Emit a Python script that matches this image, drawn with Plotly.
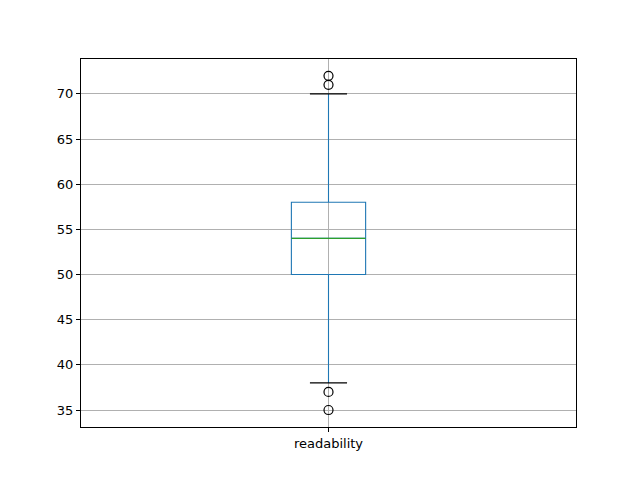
import plotly.graph_objects as go

column = "readability"
q1 = 50
median = 54
q3 = 58
lower_whisker = 38
upper_whisker = 70
outliers = [72, 71, 37, 35]

blue = "#1f77b4"
green = "#2ca02c"

fig = go.Figure()
# main box (no fill, blue outline + whiskers)
fig.add_trace(go.Box(
    x=[column], q1=[q1], median=[median], q3=[q3],
    lowerfence=[lower_whisker], upperfence=[upper_whisker],
    width=0.15, whiskerwidth=0, fillcolor="rgba(0,0,0,0)",
    line=dict(color=blue, width=1.1), hoverinfo="skip", showlegend=False,
))
# green median line
fig.add_trace(go.Box(
    x=[column], q1=[median], median=[median], q3=[median],
    lowerfence=[median], upperfence=[median],
    width=0.15, whiskerwidth=0, fillcolor="rgba(0,0,0,0)",
    line=dict(color=green, width=1.1), hoverinfo="skip", showlegend=False,
))
# black whisker caps
for v in [lower_whisker, upper_whisker]:
    fig.add_trace(go.Box(
        x=[column], q1=[v], median=[v], q3=[v], lowerfence=[v], upperfence=[v],
        width=0.075, whiskerwidth=0, fillcolor="rgba(0,0,0,0)",
        line=dict(color="black", width=1.2), hoverinfo="skip", showlegend=False,
    ))
# fliers
fig.add_trace(go.Scatter(
    x=[column] * len(outliers), y=outliers, mode="markers",
    marker=dict(symbol="circle-open", size=9, color="black", line=dict(width=1.2)),
    showlegend=False,
))

axis_common = dict(
    showline=True, linecolor="black", linewidth=1, mirror=True,
    ticks="outside", ticklen=4, tickcolor="black", tickwidth=1,
    showgrid=True, gridcolor="#b0b0b0", gridwidth=0.8, zeroline=False,
    tickfont=dict(family="DejaVu Sans", size=13, color="black"),
)
fig.update_layout(
    width=640, height=480,
    margin=dict(l=73, r=72, t=51, b=61),
    paper_bgcolor="white", plot_bgcolor="white",
    boxmode="overlay",
    xaxis=dict(type="category", range=[-0.5, 0.5], **axis_common),
    yaxis=dict(range=[33.12, 73.86], tickvals=[35, 40, 45, 50, 55, 60, 65, 70], **axis_common),
)
fig.write_html("out.html")
